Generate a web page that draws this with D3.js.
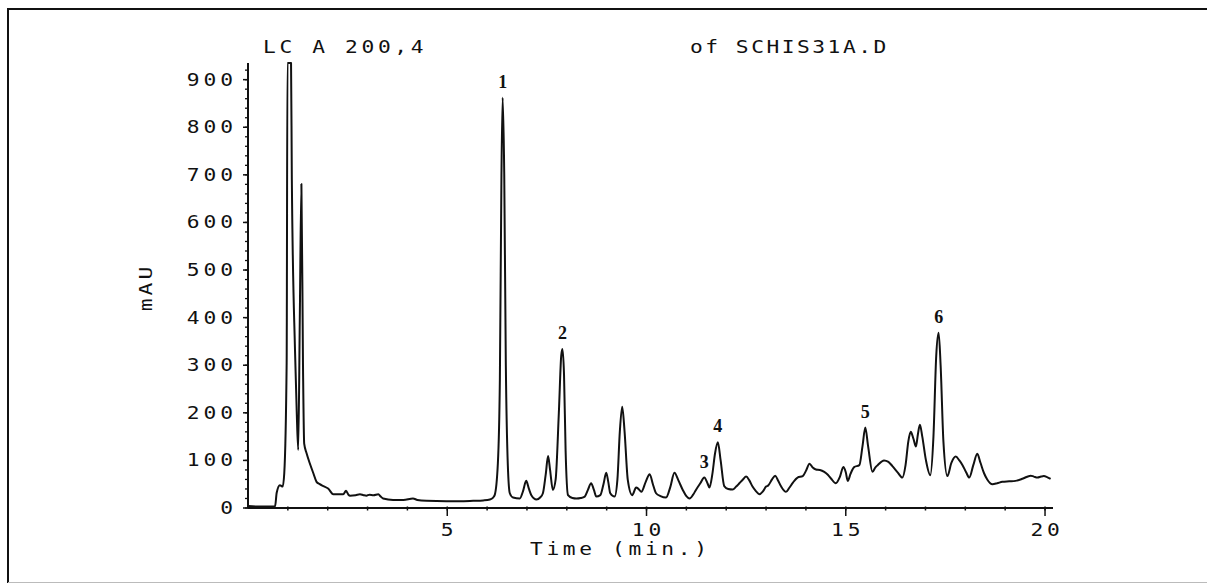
<!DOCTYPE html>
<html><head><meta charset="utf-8">
<script src="https://cdn.jsdelivr.net/npm/d3@7"></script>
<style>
body{margin:0;background:#fff;}
svg{display:block;}
text.plot{font-family:"DejaVu Sans Mono",monospace;font-size:17px;fill:#111;font-feature-settings:"zero" 1;}
text.pk{font-family:"Liberation Serif","Times New Roman",serif;font-weight:bold;font-size:18px;text-anchor:middle;fill:#111;}
</style></head><body>
<svg id="c" width="1208" height="584"></svg>
<script>
// Chromatogram trace (time in min, absorbance in mAU)
const time = [0.00,0.30,0.60,0.68,0.72,0.80,0.87,0.91,0.97,0.99,1.04,1.08,1.10,1.18,1.22,1.26,1.30,1.34,1.38,1.41,1.47,1.55,1.64,1.72,1.80,1.89,2.01,2.14,2.30,2.39,2.46,2.52,2.56,2.70,2.81,2.90,2.97,3.05,3.15,3.27,3.33,3.39,3.64,3.90,4.14,4.25,4.48,4.98,5.30,5.65,5.90,6.07,6.15,6.19,6.27,6.32,6.36,6.39,6.43,6.47,6.52,6.57,6.65,6.82,6.90,6.98,7.05,7.11,7.24,7.33,7.40,7.47,7.53,7.58,7.65,7.72,7.80,7.86,7.89,7.93,7.97,8.03,8.14,8.24,8.35,8.45,8.53,8.61,8.68,8.74,8.84,8.92,8.99,9.04,9.09,9.20,9.27,9.33,9.39,9.45,9.53,9.64,9.74,9.80,9.87,9.98,10.08,10.16,10.24,10.35,10.49,10.60,10.70,10.80,10.91,11.00,11.08,11.17,11.24,11.35,11.45,11.53,11.58,11.65,11.72,11.79,11.86,11.95,12.05,12.16,12.25,12.33,12.42,12.50,12.58,12.66,12.75,12.83,12.92,13.00,13.05,13.15,13.23,13.30,13.38,13.50,13.58,13.67,13.79,13.92,14.00,14.09,14.17,14.25,14.35,14.46,14.55,14.63,14.75,14.85,14.94,15.00,15.05,15.12,15.21,15.34,15.42,15.49,15.56,15.67,15.74,15.80,15.96,16.07,16.17,16.30,16.42,16.50,16.57,16.63,16.70,16.76,16.81,16.86,16.92,17.01,17.12,17.20,17.27,17.33,17.38,17.45,17.55,17.65,17.76,17.85,17.93,18.02,18.10,18.20,18.30,18.38,18.47,18.55,18.68,18.80,18.93,19.10,19.26,19.45,19.64,19.72,19.81,19.90,19.97,20.05,20.14];
const mau = [4,3,3,4,32,48,45,73,305,960,1500,960,690,330,210,122,400,681,300,135,115,94,73,55,50,46,41,29,29,29,36,28,26,27,29,27,26,28,27,29,24,20,17,17,20,17,15,14,14,15,16,18,22,27,94,269,700,862,700,300,90,31,22,20,35,57,40,27,18,22,31,70,109,80,38,60,200,320,334,280,120,27,21,20,21,24,38,52,38,24,27,50,74,55,31,24,60,160,213,160,59,27,43,40,34,55,71,50,31,25,22,45,74,58,38,25,20,28,38,52,64,52,43,70,115,138,100,46,40,39,45,52,60,66,58,45,35,29,35,45,47,60,68,58,45,34,42,53,64,67,78,93,85,81,80,76,70,62,52,65,86,75,57,72,86,90,130,169,130,76,85,90,100,97,88,75,64,90,140,160,145,129,155,175,150,101,69,150,320,368,300,140,67,95,108,100,90,75,64,90,114,95,73,60,50,52,55,56,57,62,68,66,64,66,67,65,61];

const yTicks = [0,100,200,300,400,500,600,700,800,900];
const xTicks = [5,10,15,20];
const peakNames = ["1","2","3","4","5","6"];
const peakTimes = [6.39,7.89,11.45,11.79,15.49,17.33];
const peakHeights = [862,334,64,138,169,368];

const titleLeft = "LC A 200,4";
const titleRight = "of SCHIS31A.D";
const xTitle = "Time (min.)";
const yTitle = "mAU";

const SX = 1.25;     // horizontal stretch of plotter-like glyphs
const LS = 2.5;      // letter spacing before stretch
const svg = d3.select("#c");

function ptext(x0, y0, str, anchor, rot, ls) {
  ls = (ls === undefined) ? LS : ls;
  let dx = 0;
  if (anchor === "end") dx = ls;
  else if (anchor === "middle") dx = ls / 2;
  const t = svg.append("text").attr("class","plot")
    .attr("text-anchor", anchor || "start")
    .style("letter-spacing", ls + "px")
    .attr("x", dx).attr("y", 0)
    .attr("transform", "translate(" + x0 + "," + y0 + ")" + (rot ? " rotate(" + rot + ")" : "") + " scale(" + SX + ",1)")
    .text(str);
  return t;
}

// frame
svg.append("path").attr("d","M8,583 L8,9 L1207,9").attr("fill","none").attr("stroke","#111").attr("stroke-width",2);
svg.append("line").attr("x1",8).attr("x2",1207).attr("y1",582.5).attr("y2",582.5).attr("stroke","#bbb").attr("stroke-width",1);

const x = d3.scaleLinear().domain([0,20.2]).range([248,1053]);
const y = d3.scaleLinear().domain([0,935]).range([508,63]).clamp(true);

// y axis
svg.append("line").attr("x1",x(0)).attr("x2",x(0)).attr("y1",y(935)).attr("y2",y(0)).attr("stroke","#111").attr("stroke-width",2);
const yMinor = d3.range(0,935,20);
svg.selectAll("line.ymin").data(yMinor).join("line").attr("class","ymin")
  .attr("x1",x(0)-3).attr("x2",x(0)+1).attr("y1",d=>y(d)).attr("y2",d=>y(d)).attr("stroke","#111").attr("stroke-width",1.3);
svg.selectAll("line.ymaj").data(yTicks).join("line").attr("class","ymaj")
  .attr("x1",x(0)-5).attr("x2",x(0)).attr("y1",d=>y(d)).attr("y2",d=>y(d)).attr("stroke","#111").attr("stroke-width",1.5);
yTicks.forEach(d => ptext(233, y(d)+6, String(d), "end", 0, 3.2));

// x axis
svg.append("line").attr("x1",x(0)).attr("x2",x(20.2)).attr("y1",y(0)).attr("y2",y(0)).attr("stroke","#111").attr("stroke-width",1.8);
const xMinor = d3.range(1,21,1);
svg.selectAll("line.xmin").data(xMinor).join("line").attr("class","xmin")
  .attr("x1",d=>x(d)).attr("x2",d=>x(d)).attr("y1",y(0)-1.5).attr("y2",y(0)+2.5).attr("stroke","#111").attr("stroke-width",1.5);
svg.selectAll("line.xmaj").data(xTicks).join("line").attr("class","xmaj")
  .attr("x1",d=>x(d)).attr("x2",d=>x(d)).attr("y1",y(0)).attr("y2",y(0)+8).attr("stroke","#111").attr("stroke-width",1.5);
xTicks.forEach(d => ptext(x(d), 536, String(d), "middle", 0, 3));

// titles
ptext(263, 53, titleLeft, "start", 0, 2.9);
ptext(690, 53, titleRight, "start", 0, 2.0);
ptext(530, 555, xTitle, "start", 0, 2.9);
ptext(152, 289, yTitle, "middle", -90, 2.5);

// trace
const line = d3.line().x(i=>x(time[i])).y(i=>y(mau[i])).curve(d3.curveMonotoneX);
svg.append("path").attr("d",line(d3.range(time.length))).attr("fill","none")
  .attr("stroke","#111").attr("stroke-width",2).attr("stroke-linejoin","round");

// peak labels
svg.selectAll("text.pk").data(peakNames).join("text").attr("class","pk")
  .attr("x",(d,i)=>x(peakTimes[i])).attr("y",(d,i)=>y(peakHeights[i])-10).text(d=>d);
</script>
</body></html>
